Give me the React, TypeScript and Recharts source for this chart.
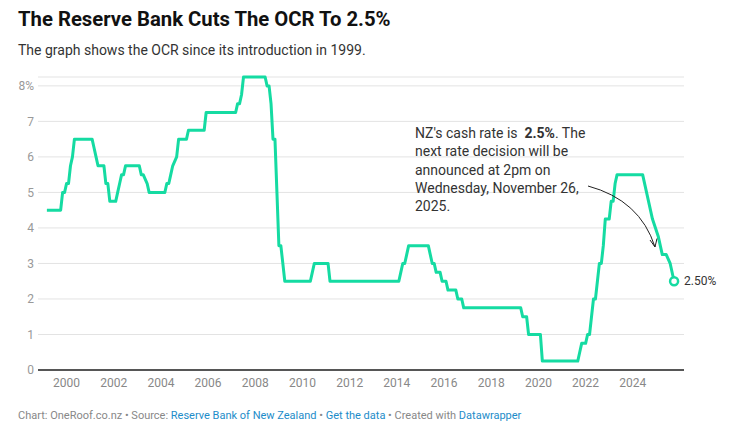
import React from "react";
import { LineChart, Line, XAxis, YAxis, CartesianGrid } from "recharts";

// Official Cash Rate, monthly values at the months where the rate moved
const months = [
  "1999-03", "1999-10", "1999-11", "1999-12", "2000-01", "2000-02", "2000-03", "2000-04", "2000-05",
  "2001-02", "2001-03", "2001-04", "2001-05", "2001-08", "2001-09", "2001-10", "2001-11",
  "2002-02", "2002-03", "2002-04", "2002-05", "2002-06", "2002-07",
  "2003-02", "2003-03", "2003-04", "2003-06", "2003-07",
  "2003-12", "2004-01", "2004-03", "2004-04", "2004-05", "2004-06", "2004-07", "2004-09", "2004-10",
  "2005-02", "2005-03", "2005-11", "2005-12",
  "2007-03", "2007-04", "2007-05", "2007-06", "2007-07",
  "2008-06", "2008-07", "2008-08", "2008-09", "2008-10", "2008-11", "2008-12",
  "2009-01", "2009-02", "2009-03", "2009-04",
  "2010-05", "2010-06", "2010-07", "2011-02", "2011-03",
  "2014-02", "2014-03", "2014-04", "2014-05", "2014-06", "2014-07",
  "2015-05", "2015-06", "2015-07", "2015-08", "2015-09", "2015-11", "2015-12",
  "2016-02", "2016-03", "2016-07", "2016-08", "2016-10", "2016-11",
  "2019-04", "2019-05", "2019-07", "2019-08", "2020-02", "2020-03",
  "2021-09", "2021-10", "2021-11", "2022-01", "2022-02", "2022-03", "2022-04", "2022-05",
  "2022-06", "2022-07", "2022-08", "2022-09", "2022-10", "2022-11",
  "2023-01", "2023-02", "2023-03", "2023-04", "2023-05",
  "2024-06", "2024-11", "2025-02", "2025-04", "2025-06", "2025-08", "2025-10",
];

const rates = [
  4.5, 4.5, 5.0, 5.0, 5.25, 5.25, 5.75, 6.0, 6.5,
  6.5, 6.25, 6.0, 5.75, 5.75, 5.25, 5.25, 4.75,
  4.75, 5.0, 5.25, 5.5, 5.5, 5.75,
  5.75, 5.5, 5.5, 5.25, 5.0,
  5.0, 5.0, 5.0, 5.25, 5.25, 5.5, 5.75, 6.0, 6.5,
  6.5, 6.75, 6.75, 7.25,
  7.25, 7.5, 7.5, 7.75, 8.25,
  8.25, 8.0, 8.0, 7.5, 6.5, 6.5, 5.0,
  3.5, 3.5, 3.0, 2.5,
  2.5, 2.75, 3.0, 3.0, 2.5,
  2.5, 2.75, 3.0, 3.0, 3.25, 3.5,
  3.5, 3.25, 3.0, 3.0, 2.75, 2.75, 2.5,
  2.5, 2.25, 2.25, 2.0, 2.0, 1.75,
  1.75, 1.5, 1.5, 1.0, 1.0, 0.25,
  0.25, 0.5, 0.75, 0.75, 1.0, 1.0, 1.5, 2.0,
  2.0, 2.5, 3.0, 3.0, 3.5, 4.25,
  4.25, 4.75, 4.75, 5.25, 5.5,
  5.5, 4.25, 3.75, 3.25, 3.25, 3.0, 2.5,
];

const xTicks = [2000, 2002, 2004, 2006, 2008, 2010, 2012, 2014, 2016, 2018, 2020, 2022, 2024];
const yTicks = [0, 1, 2, 3, 4, 5, 6, 7, 8];

const GREEN = "#15dba2";
const FONT = "Roboto, 'Noto Sans', sans-serif";

function toYear(m: string) {
  const [y, mo] = m.split("-").map(Number);
  return y + (mo - 1) / 12;
}

const data = months.map((m, i) => ({ t: toYear(m), rate: rates[i] }));
const last = data.length - 1;

function EndDot(props: any) {
  const { cx, cy, index, payload } = props;
  if (index !== last) return <g key={index} />;
  return (
    <g key={index}>
      <circle cx={cx} cy={cy} r={4} fill="#fff" stroke={GREEN} strokeWidth={2.5} />
      <text x={cx + 10} y={cy} dy="0.35em" fontSize={12} fill="#333" fontFamily={FONT}>
        {payload.rate.toFixed(2)}%
      </text>
    </g>
  );
}

export default function App() {
  return (
    <div style={{ position: "absolute", left: 0, top: 0, width: 752, height: 448, background: "#fff", fontFamily: FONT }}>
      <div style={{ position: "absolute", left: 18, top: 7, fontSize: 20.3, fontWeight: 700, color: "#111" }}>
        The Reserve Bank Cuts The OCR To 2.5%
      </div>
      <div style={{ position: "absolute", left: 18, top: 42, fontSize: 14, color: "#333" }}>
        The graph shows the OCR since its introduction in 1999.
      </div>

      <div style={{ position: "absolute", left: 0, top: 0 }}>
        <LineChart width={752} height={448} data={data} margin={{ top: 77, right: 68, bottom: 48, left: 0 }}>
          <CartesianGrid vertical={false} stroke="#e3e3e3" />
          <XAxis
            dataKey="t"
            type="number"
            domain={[1998.79, 2026.17]}
            ticks={xTicks}
            tickLine={false}
            axisLine={{ stroke: "#222", strokeWidth: 1.5 }}
            tick={{ fill: "#888", fontSize: 12, fontFamily: FONT }}
            height={30}
            interval={0}
          />
          <YAxis
            type="number"
            domain={[0, 8.25]}
            ticks={yTicks}
            width={38}
            tickLine={false}
            axisLine={false}
            tickMargin={-2}
            tick={{ fill: "#999", fontSize: 12, fontFamily: FONT }}
            tickFormatter={(v: number) => (v === 8 ? "8%" : String(v))}
            interval={0}
          />
          <Line
            type="linear"
            dataKey="rate"
            stroke={GREEN}
            strokeWidth={3}
            strokeLinejoin="round"
            dot={EndDot}
            activeDot={false}
            isAnimationActive={false}
          />
        </LineChart>
      </div>

      {/* annotation */}
      <div style={{ position: "absolute", left: 415, top: 124, fontSize: 14, lineHeight: "18.3px", color: "#333", whiteSpace: "pre" }}>
        {"NZ's cash rate is  "}<b>2.5%</b>{". The\nnext rate decision will be\nannounced at 2pm on\nWednesday, November 26,\n2025."}
      </div>
      <svg style={{ position: "absolute", left: 0, top: 0 }} width={752} height={448} pointerEvents="none">
        <path d="M588,186 Q640,200 655,247" fill="none" stroke="#222" strokeWidth={1} />
        <path d="M650,240 L655,247 L657,238.5" fill="none" stroke="#222" strokeWidth={1} />
      </svg>

      <div style={{ position: "absolute", left: 18, top: 409, fontSize: 11, color: "#888" }}>
        Chart: OneRoof.co.nz • Source: <span style={{ color: "#1d8cc9" }}>Reserve Bank of New Zealand</span> •{" "}
        <span style={{ color: "#1d8cc9" }}>Get the data</span> • Created with{" "}
        <span style={{ color: "#1d8cc9" }}>Datawrapper</span>
      </div>
    </div>
  );
}
